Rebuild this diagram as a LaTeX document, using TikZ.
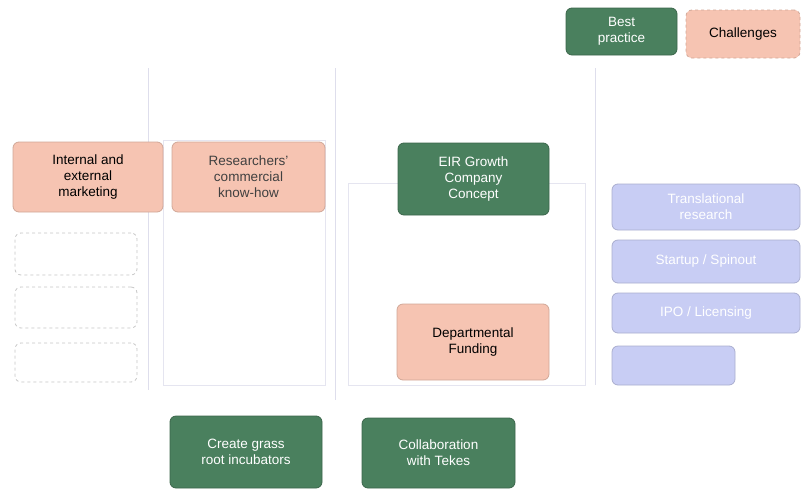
\documentclass[tikz,border=0pt]{standalone}
\usepackage{fontspec}
\setmainfont{Liberation Sans}
\begin{document}
\begin{tikzpicture}[x=1pt,y=-1pt,
  every node/.style={font=\fontsize{13.5}{16}\selectfont, align=center, inner sep=2pt},
  base/.style={rounded corners=6pt, line width=0.8pt},
  greenbox/.style={base, fill=bpgreen, draw=bpgreen!80!black, text=white},
  salmonbox/.style={base, fill=chsalmon, draw=chsalmon!85!black, text=black},
  lavbox/.style={base, fill=lav, draw=lav!85!black, text=white},
  emptybox/.style={base, fill=white, draw=gray!45, dashed},
  colline/.style={draw=colgray, line width=1pt},
  colrect/.style={draw=colgray!80, line width=0.8pt}
]
\definecolor{bpgreen}{RGB}{74,128,94}
\definecolor{chsalmon}{RGB}{246,196,178}
\definecolor{lav}{RGB}{200,205,244}
\definecolor{colgray}{RGB}{222,222,236}
\useasboundingbox (0,0) rectangle (805,490);

% column separators
\draw[colline] (148,68) -- (148,390);
\draw[colline] (335,68) -- (335,400);
\draw[colline] (595,68) -- (595,385);
\draw[colrect] (163,140) rectangle (325,385);
\draw[colrect] (348,183) rectangle (585,385);

% legend
\node[greenbox, minimum width=111pt, minimum height=47pt] (best) at (621.5,31.5) {Best\\practice};
\node[salmonbox, dashed, minimum width=114pt, minimum height=48pt] (chal) at (743,34) {Challenges};

% column 1
\node[salmonbox, minimum width=150pt, minimum height=70pt] (mkt) at (88,177) {Internal and\\external\\marketing};
\node[emptybox, minimum width=122pt, minimum height=42pt] (e1) at (76,254) {};
\node[emptybox, minimum width=122pt, minimum height=41pt] (e2) at (76,307.5) {};
\node[emptybox, minimum width=122pt, minimum height=39pt] (e3) at (76,362.5) {};

% column 2
\node[salmonbox, text=black!75, minimum width=153pt, minimum height=70pt] (res) at (248.5,177) {Researchers'\\commercial\\know-how};

% column 3
\node[greenbox, minimum width=151pt, minimum height=72pt] (eir) at (473.5,179) {EIR Growth\\Company\\Concept};
\node[salmonbox, minimum width=152pt, minimum height=76pt] (dep) at (473,342) {Departmental\\Funding};

% column 4
\node[lavbox, minimum width=188pt, minimum height=46pt] (l1) at (706,207) {Translational\\research};
\node[lavbox, minimum width=188pt, minimum height=43pt] (l2) at (706,261.5) {Startup / Spinout};
\node[lavbox, minimum width=188pt, minimum height=40pt] (l3) at (706,313) {IPO / Licensing};
\node[lavbox, minimum width=123pt, minimum height=39pt] (l4) at (673.5,365.5) {};

% bottom
\node[greenbox, minimum width=152pt, minimum height=72pt] (grass) at (246,452) {Create grass\\root incubators};
\node[greenbox, minimum width=153pt, minimum height=70pt] (tekes) at (438.5,453) {Collaboration\\with Tekes};
\end{tikzpicture}
\end{document}
